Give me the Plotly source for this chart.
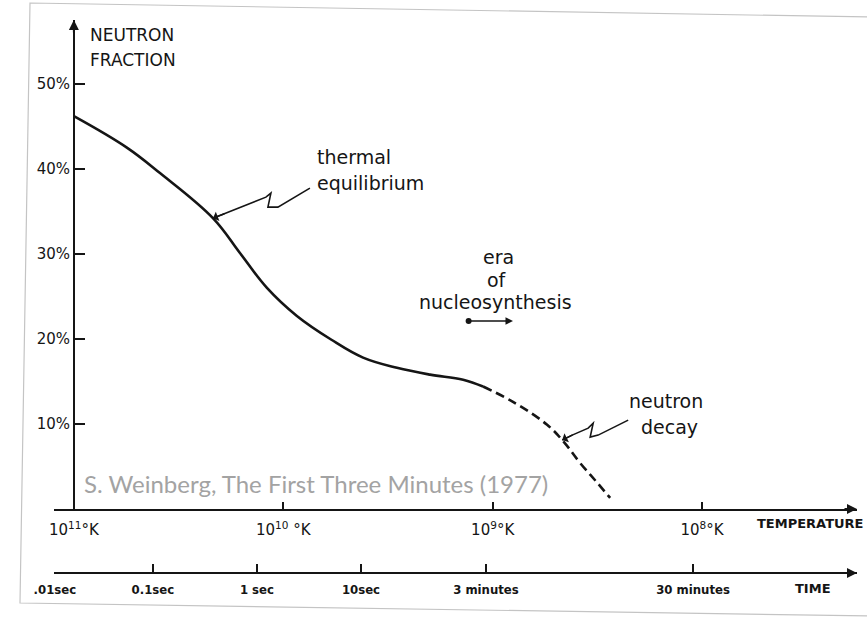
import numpy as np
import plotly.graph_objects as go

# x positions are in decades of temperature below 10^11 K (0 -> 10^11 K, 1 -> 10^10 K, ...)
curve_x = [0.0, 0.253, 0.411, 0.664, 0.793, 0.922, 1.065, 1.230, 1.381, 1.543,
           1.701, 1.859, 1.954, 2.097, 2.260, 2.336, 2.418, 2.499, 2.561]
curve_y = [46.2, 42.5, 39.5, 34.2, 30.1, 26.0, 22.7, 19.9, 17.8, 16.6,
           15.8, 15.2, 14.4, 12.6, 9.9, 8.0, 5.4, 3.1, 1.3]
dash_from = 12  # curve turns dashed (neutron decay) from this point on

temp_ticks = [0, 1, 2, 3]
temp_labels = ["10<sup>11</sup>°K", "10<sup>10</sup> °K", "10<sup>9</sup>°K", "10<sup>8</sup>°K"]

time_ticks = [-0.091, 0.377, 0.874, 1.371, 1.968, 2.957]
time_labels = [".01sec", "0.1sec", "1 sec", "10sec", "3 minutes", "30 minutes"]

frac_ticks = [10, 20, 30, 40, 50]
frac_labels = ["10%", "20%", "30%", "40%", "50%"]

X_RANGE = [-0.095, 3.74]
Y_RANGE = [0, 57.5]
W, H = 867, 619
M = dict(l=54, r=10, t=20, b=46)
LINE = "#151515"
LETTER = "DejaVu Sans"


def px(x):
    return (x - M["l"]) / (W - M["l"] - M["r"])


def py(y):
    return (H - M["b"] - y) / (H - M["t"] - M["b"])


y_dom0 = py(509)

fig = go.Figure()
fig.add_trace(go.Scatter(
    x=curve_x[:dash_from + 1], y=curve_y[:dash_from + 1], mode="lines",
    line=dict(color=LINE, width=2.6, shape="spline", smoothing=1.1),
    hoverinfo="skip", showlegend=False,
))
fig.add_trace(go.Scatter(
    x=curve_x[dash_from:], y=curve_y[dash_from:], mode="lines",
    line=dict(color=LINE, width=2.6, dash="9px,5px", shape="spline", smoothing=1.1),
    hoverinfo="skip", showlegend=False,
))
# keeps the time axis alive
fig.add_trace(go.Scatter(
    x=time_ticks, y=[0] * len(time_ticks), xaxis="x2", mode="markers",
    marker=dict(opacity=0), hoverinfo="skip", showlegend=False,
))

axis_common = dict(showgrid=False, zeroline=False, showline=True, linewidth=2,
                   linecolor=LINE, ticks="inside", tickwidth=2, tickcolor=LINE)

fig.update_layout(
    width=W, height=H, autosize=False, margin=M,
    paper_bgcolor="white", plot_bgcolor="white",
    xaxis=dict(range=X_RANGE, anchor="y", tickvals=temp_ticks, ticktext=temp_labels,
               ticklen=7, ticklabelstandoff=6,
               tickfont=dict(family=LETTER, size=15, color=LINE), **axis_common),
    xaxis2=dict(range=X_RANGE, overlaying="x", anchor="free", position=0, side="bottom",
                tickvals=time_ticks, ticktext=time_labels, ticklen=8, ticklabelstandoff=4,
                tickfont=dict(family="DejaVu Sans Condensed, " + LETTER, size=13,
                              color=LINE, weight="bold"),
                **axis_common),
    yaxis=dict(range=Y_RANGE, domain=[y_dom0, 1], anchor="free", position=px(74),
               tickvals=frac_ticks, ticktext=frac_labels, ticklen=10,
               tickfont=dict(family=LETTER, size=15, color=LINE), **axis_common),
)

# axis arrowheads
for ref in ["y", "paper"]:
    fig.add_annotation(x=X_RANGE[1], y=0, xref="x", yref=ref, ax=-14, ay=0, text="",
                       showarrow=True, arrowhead=2, arrowsize=1, arrowwidth=2, arrowcolor=LINE)
fig.add_annotation(x=0, y=Y_RANGE[1], xref="x", yref="y", ax=0, ay=14, text="",
                   showarrow=True, arrowhead=2, arrowsize=1, arrowwidth=2, arrowcolor=LINE)


def label(text, x, y, size, anchor="center", family=LETTER, color=LINE, bold=False):
    fig.add_annotation(x=px(x), y=py(y), xref="paper", yref="paper", text=text,
                       showarrow=False, xanchor=anchor, yanchor="middle",
                       font=dict(family=family, size=size, color=color,
                                 weight="bold" if bold else "normal"))


label("NEUTRON", 88, 35, 17, "left")
label("FRACTION", 88, 60, 17, "left")
label("thermal", 315, 157, 19, "left")
label("equilibrium", 315, 183, 19, "left")
label("era", 498, 257, 19)
label("of", 497, 280, 19)
label("nucleosynthesis", 495, 302, 19)
label("neutron", 666, 401, 19)
label("decay", 669, 427, 19)
label("TEMPERATURE", 810, 523, 13, bold=True)
label("TIME", 813, 588, 13, bold=True)
label("S. Weinberg, The First Three Minutes (1977)", 82, 483, 24, "left",
      family="Lato, Open Sans", color="#a3a3a3")

# era of nucleosynthesis double arrow
fig.add_annotation(x=2.097, y=22.1, ax=1.878, ay=22.1, xref="x", yref="y",
                   axref="x", ayref="y", text="", showarrow=True, arrowside="end+start",
                   arrowhead=2, startarrowhead=6, arrowsize=1, arrowwidth=1.5, arrowcolor=LINE)

# squiggly pointers, in pixel offsets from the point on the curve
pointers = [
    (0.664, "M0,0 L53,21 L58,25 L55,11 L65,11 L97,30", (13, -5)),
    (2.332, "M0,0 L10,5 L26,12 L31,17 L28,3 L36,5 L66,20", (12, -6)),
]
for xa, path, (hx, hy) in pointers:
    ya = float(np.interp(xa, curve_x, curve_y))
    fig.add_shape(type="path", xref="x", yref="y", xsizemode="pixel", ysizemode="pixel",
                  xanchor=xa, yanchor=ya, path=path, line=dict(color=LINE, width=1.6))
    fig.add_annotation(x=xa, y=ya, xref="x", yref="y", ax=hx, ay=hy, text="",
                       showarrow=True, arrowhead=1, arrowsize=1.2, arrowwidth=1.4,
                       arrowcolor=LINE)

# faint edge of the scanned page
fig.add_shape(type="path", xref="paper", yref="paper",
              path=f"M{px(30)},{py(3)} L{px(870)},{py(17)} L{px(870)},{py(616)} "
                   f"L{px(20)},{py(603)} Z",
              line=dict(color="#c4c4c4", width=1.2), layer="below")

fig.write_html("out.html", config={"displayModeBar": False},
               post_script="document.body.style.margin='0px';")
